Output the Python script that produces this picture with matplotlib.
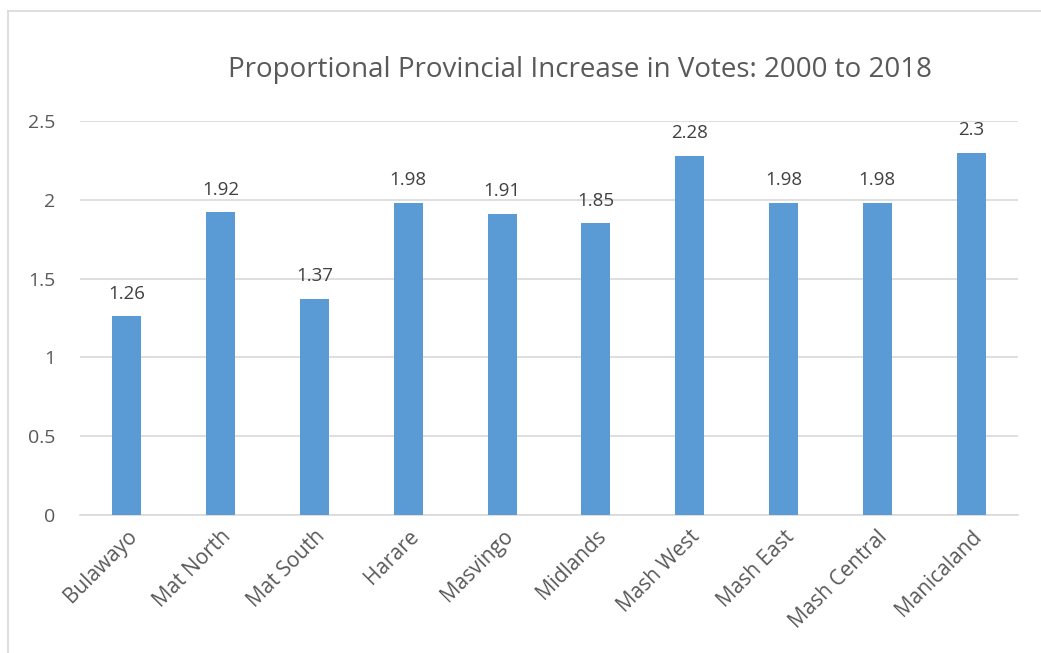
import matplotlib
matplotlib.use("Agg")
import matplotlib.pyplot as plt
from matplotlib.lines import Line2D

categories = ["Bulawayo", "Mat North", "Mat South", "Harare", "Masvingo",
              "Midlands", "Mash West", "Mash East", "Mash Central", "Manicaland"]
values = [1.26, 1.92, 1.37, 1.98, 1.91, 1.85, 2.28, 1.98, 1.98, 2.3]
value_labels = ["1.26", "1.92", "1.37", "1.98", "1.91", "1.85", "2.28", "1.98", "1.98", "2.3"]
yticks = [0, 0.5, 1, 1.5, 2, 2.5]
ytick_labels = ["0", "0.5", "1", "1.5", "2", "2.5"]
title = "Proportional Provincial Increase in Votes: 2000 to 2018"

plt.rcParams['font.family'] = ['Open Sans', 'DejaVu Sans']
W, H = 1041, 653
fig = plt.figure(figsize=(W / 100, H / 100), dpi=100)
ax = fig.add_axes([80 / W, 1 - 515 / H, (1018 - 80) / W, (515 - 121) / H])

text_col = "#595959"
x = list(range(len(categories)))
ax.bar(x, values, width=0.31, color="#5B9BD5", zorder=3)
for xi, v, lab in zip(x, values, value_labels):
    ax.annotate(lab, (xi, v), xytext=(0, 10), textcoords="offset points",
                ha="center", va="bottom", fontsize=13.5, color="#404040")

ax.set_xlim(-0.5, len(categories) - 0.5)
ax.set_ylim(0, 2.5)
ax.set_yticks(yticks)
ax.set_yticklabels(ytick_labels)
ax.set_xticks(x)
ax.set_xticklabels(categories, rotation=45, ha="right", rotation_mode="anchor")
ax.yaxis.grid(True, color="#D9D9D9", linewidth=1.2, zorder=0)
ax.set_axisbelow(True)
for s in ["top", "right", "left"]:
    ax.spines[s].set_visible(False)
ax.spines["bottom"].set_color("#D9D9D9")
ax.spines["bottom"].set_linewidth(1.2)
ax.tick_params(axis="both", length=0, colors=text_col, labelsize=14)
ax.tick_params(axis="x", labelsize=15, pad=8)
ax.tick_params(axis="y", pad=18)

fig.text(580 / W, 1 - 70 / H, title, ha="center", va="center", fontsize=20, color=text_col)

# chart frame (left and top edges visible)
fig.add_artist(Line2D([8 / W, 8 / W], [0, 1 - 11 / H], transform=fig.transFigure,
                      color="#D9D9D9", linewidth=1.2))
fig.add_artist(Line2D([8 / W, 1], [1 - 11 / H, 1 - 11 / H], transform=fig.transFigure,
                      color="#D9D9D9", linewidth=1.2))

fig.savefig("out.png", dpi=100)
